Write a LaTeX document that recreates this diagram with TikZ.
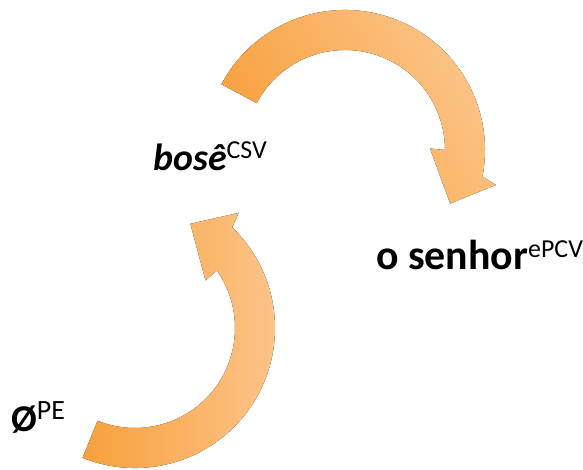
\documentclass[tikz,border=0pt]{standalone}
\usepackage{fontspec}
\setmainfont{Carlito}
\usepackage{xcolor}
\definecolor{f8a03c}{HTML}{f8a03c}
\definecolor{fcc68c}{HTML}{fcc68c}
\usepackage{tikz}

% raised tag after a word, set upright and not bold
\newcommand{\tagsup}[2][26]{\raisebox{12bp}{\fontsize{#1}{#1}\selectfont\mdseries\upshape #2}}

\tikzset{
    band/.style={left color=f8a03c, right color=fcc68c, draw=none},
    word/.style={anchor=base west, inner sep=0pt, font=\fontsize{38}{44}\selectfont}
}

\begin{document}
\begin{tikzpicture}[x=1bp, y=1bp]
            \useasboundingbox (0, 0) rectangle (583, 470);

            \coordinate (c1) at (345, 320);
            \coordinate (c2) at (135, 142);

            % upper arrow, clockwise
            \fill[band, shading angle=120]
                ([shift={(152:140)}]c1) arc[start angle=152, end angle=-11, radius=140]
                -- ([shift={(-13:155)}]c1)
                -- ([shift={(-27:118)}]c1)
                -- ([shift={(1:85)}]c1)
                -- ([shift={(0:100)}]c1) arc[start angle=0, end angle=152, radius=100]
                -- cycle;

            % lower arrow, counter-clockwise
            \fill[band]
                ([shift={(-112:140)}]c2) arc[start angle=-112, end angle=46, radius=140]
                -- ([shift={(48:155)}]c2)
                -- ([shift={(62:118)}]c2)
                -- ([shift={(34:85)}]c2)
                -- ([shift={(35:100)}]c2) arc[start angle=35, end angle=-112, radius=100]
                -- cycle;

            \node (bose) at (153, 299) [word] {\bfseries\itshape bosê\tagsup{CSV}};
            \node (senhor) at (376, 200) [word, font=\fontsize{42}{48}\selectfont] {\bfseries o senhor\tagsup{ePCV}};
            \node (empty) at (11, 38) [word] {\bfseries Ø\tagsup[28]{PE}};
        \end{tikzpicture}
\end{document}
